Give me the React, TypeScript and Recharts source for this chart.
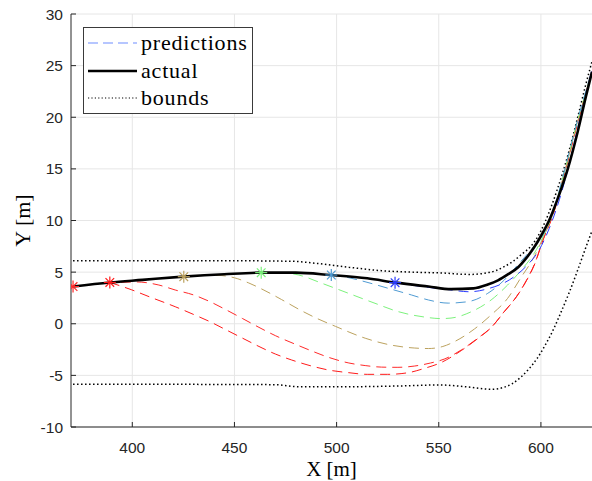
import React from 'react';
import { ComposedChart, Line, Scatter, Cell, XAxis, YAxis, CartesianGrid } from 'recharts';

const xTicks = [400, 450, 500, 550, 600];
const yTicks = [-10, -5, 0, 5, 10, 15, 20, 25, 30];

// actual trajectory
const actualX = [371, 389, 405, 425, 445, 463, 480, 497, 515, 529, 545, 556, 567, 574, 579, 584, 589, 593, 597, 600, 604, 608, 613, 618, 622, 625];
const actualY = [3.6, 4.0, 4.25, 4.56, 4.8, 4.95, 4.95, 4.72, 4.4, 3.98, 3.6, 3.35, 3.43, 3.8, 4.2, 4.8, 5.5, 6.4, 7.5, 8.5, 10.0, 12.0, 14.9, 18.6, 22.0, 24.4];

// bounds
const upperX = [371, 400, 450, 478, 490, 506, 522, 540, 554.5, 561, 566, 572.4, 578, 582, 586, 590.2, 596.7, 600, 604, 608, 613, 618, 622, 625];
const upperY = [6.1, 6.1, 6.1, 6.05, 5.85, 5.47, 5.14, 4.98, 4.89, 4.8, 4.78, 4.89, 5.15, 5.53, 6.0, 6.66, 7.9, 9.0, 10.8, 13.0, 16.2, 20.0, 23.2, 25.4];
const lowerX = [371, 420, 470, 481.5, 506, 530, 550, 566, 575.6, 582, 586, 590, 594, 598, 602, 606, 610, 614, 618, 622, 625];
const lowerY = [-5.87, -5.87, -5.9, -6.1, -6.1, -6.03, -5.93, -6.16, -6.35, -6.15, -5.8, -5.2, -4.4, -3.4, -2.1, -0.6, 1.2, 3.1, 5.2, 7.4, 9.0];

// predictions
const pred1X = [371, 389, 402, 413, 421, 430, 438, 446, 454, 462, 470, 480, 488, 496, 506, 514, 522, 530, 538, 546, 553, 561, 569, 576, 582, 588, 593, 597, 601, 606, 612, 618, 625];
const pred1Y = [3.6, 3.95, 4.05, 3.75, 3.27, 2.79, 2.14, 1.34, 0.5, -0.35, -1.15, -2.0, -2.65, -3.25, -3.8, -4.05, -4.2, -4.22, -4.1, -3.8, -3.4, -2.54, -1.41, -0.29, 1.17, 2.62, 4.24, 5.85, 8.1, 10.6, 14.9, 19.5, 24.4];
const pred2X = [389, 399.5, 408.5, 421, 430, 438, 446, 454, 462, 470, 478, 486, 496, 506, 515, 525, 535, 543, 551, 561, 569, 576, 582, 588, 593, 597, 601, 606, 612, 618, 625];
const pred2Y = [4.0, 3.3, 2.6, 1.65, 0.9, 0.2, -0.6, -1.4, -2.2, -2.93, -3.51, -4.0, -4.48, -4.74, -4.9, -4.9, -4.74, -4.32, -3.77, -2.6, -1.45, -0.3, 1.15, 2.6, 4.2, 5.8, 8.1, 10.6, 14.9, 19.5, 24.4];
const pred3X = [425.2, 435, 442, 450, 457, 464, 473, 481.5, 490, 499.4, 514, 525, 538, 545, 552, 558, 567.5, 575.6, 583.7, 590, 596.7, 601, 606, 612, 618, 625];
const pred3Y = [4.56, 4.68, 4.68, 4.45, 3.95, 3.3, 2.35, 1.4, 0.55, -0.25, -1.4, -2.0, -2.35, -2.4, -2.2, -1.7, -0.5, 0.85, 2.46, 4.4, 6.5, 8.3, 10.7, 15.0, 19.6, 24.4];
const pred4X = [463.1, 472, 481.5, 492.8, 505.8, 518.8, 530.2, 543, 551, 556, 566, 575.6, 583.7, 591.8, 596.7, 601, 606, 612, 618, 625];
const pred4Y = [4.95, 4.95, 4.72, 3.92, 2.95, 1.98, 1.17, 0.65, 0.5, 0.55, 1.17, 2.3, 3.75, 5.53, 6.82, 8.4, 10.8, 15.1, 19.7, 24.4];
const pred5X = [497.4, 505, 513.9, 525.3, 536.6, 545, 554.6, 564.3, 574, 582.1, 588.6, 595.1, 601, 606, 612, 618, 625];
const pred5Y = [4.72, 4.5, 4.07, 3.43, 2.79, 2.3, 2.0, 2.14, 2.95, 4.24, 5.69, 7.14, 8.6, 10.9, 15.2, 19.8, 24.5];
const pred6X = [528.6, 540, 553.6, 565, 574.8, 584.5, 592.6, 599.1, 604, 609, 614, 619, 625];
const pred6Y = [3.98, 3.65, 3.33, 3.1, 3.43, 4.24, 5.53, 7.14, 9.2, 12.0, 15.6, 19.8, 24.6];

const predColors = ['#ff2a2a', '#ff1a1a', '#bca25e', '#7cf27c', '#4f9bd3', '#2b3cff'];

// start markers
const markerX = [371, 389, 425.2, 463.1, 497.4, 528.6];
const markerY = [3.6, 4.0, 4.56, 4.95, 4.72, 3.98];

const zip = (xs: number[], ys: number[]) => xs.map((x, i) => ({ x, y: ys[i] }));

const predictions = [
  zip(pred1X, pred1Y),
  zip(pred2X, pred2Y),
  zip(pred3X, pred3Y),
  zip(pred4X, pred4Y),
  zip(pred5X, pred5Y),
  zip(pred6X, pred6Y),
];
const markers = zip(markerX, markerY);

const Asterisk = (props: any) => {
  const { cx, cy, fill } = props;
  const r = 6;
  const d = r * 0.72;
  return (
    <g stroke={fill} strokeWidth={1.2}>
      <line x1={cx - r} y1={cy} x2={cx + r} y2={cy} />
      <line x1={cx} y1={cy - r} x2={cx} y2={cy + r} />
      <line x1={cx - d} y1={cy - d} x2={cx + d} y2={cy + d} />
      <line x1={cx - d} y1={cy + d} x2={cx + d} y2={cy - d} />
    </g>
  );
};

const axisColor = '#262626';
const tickStyle = { fontSize: 15.5, fill: axisColor, fontFamily: '"Liberation Sans", Arial, sans-serif' };
const serif = '"Liberation Serif", "Times New Roman", serif';

function LegendBox() {
  const rows = [
    { label: 'predictions', stroke: '#6f8dff', dash: '10 5', width: 1.2 },
    { label: 'actual', stroke: '#000', dash: undefined, width: 2.6 },
    { label: 'bounds', stroke: '#000', dash: '1.2 2.2', width: 1 },
  ];
  return (
    <div
      style={{
        position: 'absolute',
        left: 83,
        top: 27,
        width: 170,
        height: 87,
        boxSizing: 'border-box',
        border: '1px solid #3a3a3a',
        background: '#fff',
      }}
    >
      {rows.map((r, i) => (
        <div
          key={r.label}
          style={{
            position: 'absolute',
            left: 4,
            top: 1 + i * 27.5,
            height: 28,
            display: 'flex',
            alignItems: 'center',
          }}
        >
          <svg width={50} height={10} style={{ display: 'block' }}>
            <line x1={0} y1={5} x2={49} y2={5} stroke={r.stroke} strokeWidth={r.width} strokeDasharray={r.dash} />
          </svg>
          <span style={{ marginLeft: 3, fontFamily: serif, fontSize: 22, letterSpacing: 0.8, color: '#000', lineHeight: '28px' }}>
            {r.label}
          </span>
        </div>
      ))}
    </div>
  );
}

export default function App() {
  return (
    <div style={{ position: 'absolute', left: 0, top: 0, width: 592, height: 481, background: '#fff', overflow: 'hidden' }}>
      <ComposedChart width={592} height={481} margin={{ top: 14, right: 0, bottom: 0, left: 0 }}>
        <CartesianGrid stroke="#e6e6e6" strokeWidth={1} horizontalValues={yTicks} verticalValues={xTicks} />
        <XAxis
          type="number"
          dataKey="x"
          domain={[370, 625]}
          ticks={xTicks}
          allowDataOverflow
          height={54}
          stroke={axisColor}
          tick={tickStyle}
          tickSize={-5}
          tickMargin={20}
          label={{ value: 'X [m]', position: 'insideBottom', offset: 5, style: { fontFamily: serif, fontSize: 21, fill: '#000' } }}
        />
        <YAxis
          type="number"
          domain={[-10, 30]}
          ticks={yTicks}
          allowDataOverflow
          width={71}
          stroke={axisColor}
          tick={tickStyle}
          tickSize={-5}
          tickMargin={13}
          label={{
            value: 'Y [m]',
            angle: -90,
            position: 'insideLeft',
            offset: 22,
            style: { fontFamily: serif, fontSize: 22, fill: '#000', textAnchor: 'middle' },
          }}
        />
        <Line data={zip(upperX, upperY)} dataKey="y" type="monotone" stroke="#000" strokeWidth={1.5} strokeDasharray="1.5 2.5" dot={false} isAnimationActive={false} />
        <Line data={zip(lowerX, lowerY)} dataKey="y" type="monotone" stroke="#000" strokeWidth={1.5} strokeDasharray="1.5 2.5" dot={false} isAnimationActive={false} />
        {predictions.map((p, i) => (
          <Line
            key={i}
            data={p}
            dataKey="y"
            type="monotone"
            stroke={predColors[i]}
            strokeWidth={1}
            strokeDasharray="10 6"
            dot={false}
            isAnimationActive={false}
          />
        ))}
        <Line data={zip(actualX, actualY)} dataKey="y" type="monotone" stroke="#000" strokeWidth={2.6} dot={false} isAnimationActive={false} />
        <Scatter data={markers} dataKey="y" shape={Asterisk} isAnimationActive={false}>
          {markers.map((m, i) => (
            <Cell key={i} fill={predColors[i]} />
          ))}
        </Scatter>
      </ComposedChart>
      <LegendBox />
    </div>
  );
}
